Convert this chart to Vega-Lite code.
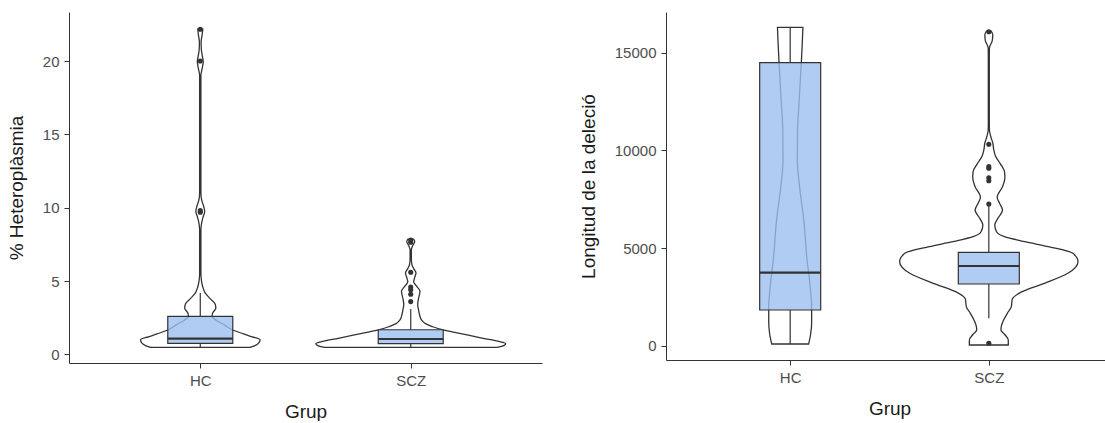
{
  "$schema": "https://vega.github.io/schema/vega-lite/v6.json",
  "background": "white",
  "padding": {"left": 7, "top": 12, "right": 0, "bottom": 0},
  "spacing": 37,
  "config": {
    "view": {"stroke": null},
    "font": "Liberation Sans",
    "axis": {
      "grid": false,
      "domainColor": "#333333",
      "tickColor": "#333333",
      "labelColor": "#4d4d4d",
      "titleColor": "#1a1a1a",
      "labelFontSize": 15,
      "titleFontSize": 19,
      "titleFontWeight": "normal",
      "tickSize": 5,
      "labelPadding": 5
    },
    "axisX": {"titlePadding": 14},
    "axisY": {"titlePadding": 15.5}
  },
  "datasets": {
    "violinL": [
      {"g": "HC", "v": 0.48, "lo": 0.763, "hi": 1.237},
      {"g": "HC", "v": 0.6, "lo": 0.740, "hi": 1.260},
      {"g": "HC", "v": 0.8, "lo": 0.721, "hi": 1.279},
      {"g": "HC", "v": 1.0, "lo": 0.716, "hi": 1.284},
      {"g": "HC", "v": 1.2, "lo": 0.753, "hi": 1.247},
      {"g": "HC", "v": 1.4, "lo": 0.795, "hi": 1.205},
      {"g": "HC", "v": 1.7, "lo": 0.851, "hi": 1.149},
      {"g": "HC", "v": 2.0, "lo": 0.884, "hi": 1.116},
      {"g": "HC", "v": 2.3, "lo": 0.921, "hi": 1.079},
      {"g": "HC", "v": 2.6, "lo": 0.944, "hi": 1.056},
      {"g": "HC", "v": 2.85, "lo": 0.940, "hi": 1.060},
      {"g": "HC", "v": 3.15, "lo": 0.926, "hi": 1.074},
      {"g": "HC", "v": 3.45, "lo": 0.930, "hi": 1.070},
      {"g": "HC", "v": 3.8, "lo": 0.953, "hi": 1.047},
      {"g": "HC", "v": 4.2, "lo": 0.977, "hi": 1.023},
      {"g": "HC", "v": 4.6, "lo": 0.988, "hi": 1.012},
      {"g": "HC", "v": 5.0, "lo": 0.994, "hi": 1.006},
      {"g": "HC", "v": 5.5, "lo": 0.997, "hi": 1.003},
      {"g": "HC", "v": 8.5, "lo": 0.997, "hi": 1.003},
      {"g": "HC", "v": 9.0, "lo": 0.993, "hi": 1.007},
      {"g": "HC", "v": 9.4, "lo": 0.986, "hi": 1.014},
      {"g": "HC", "v": 9.75, "lo": 0.979, "hi": 1.021},
      {"g": "HC", "v": 10.1, "lo": 0.984, "hi": 1.016},
      {"g": "HC", "v": 10.5, "lo": 0.993, "hi": 1.007},
      {"g": "HC", "v": 11.0, "lo": 0.997, "hi": 1.003},
      {"g": "HC", "v": 19.0, "lo": 0.997, "hi": 1.003},
      {"g": "HC", "v": 19.5, "lo": 0.991, "hi": 1.009},
      {"g": "HC", "v": 19.95, "lo": 0.986, "hi": 1.014},
      {"g": "HC", "v": 20.4, "lo": 0.991, "hi": 1.009},
      {"g": "HC", "v": 20.8, "lo": 0.995, "hi": 1.005},
      {"g": "HC", "v": 21.3, "lo": 0.996, "hi": 1.004},
      {"g": "HC", "v": 21.8, "lo": 0.991, "hi": 1.009},
      {"g": "HC", "v": 22.17, "lo": 0.988, "hi": 1.012},
      {"g": "SCZ", "v": 0.48, "lo": 1.591, "hi": 2.409},
      {"g": "SCZ", "v": 0.6, "lo": 1.558, "hi": 2.442},
      {"g": "SCZ", "v": 0.75, "lo": 1.549, "hi": 2.451},
      {"g": "SCZ", "v": 0.9, "lo": 1.586, "hi": 2.414},
      {"g": "SCZ", "v": 1.1, "lo": 1.656, "hi": 2.344},
      {"g": "SCZ", "v": 1.3, "lo": 1.721, "hi": 2.279},
      {"g": "SCZ", "v": 1.5, "lo": 1.791, "hi": 2.209},
      {"g": "SCZ", "v": 1.7, "lo": 1.856, "hi": 2.144},
      {"g": "SCZ", "v": 1.9, "lo": 1.898, "hi": 2.102},
      {"g": "SCZ", "v": 2.1, "lo": 1.930, "hi": 2.070},
      {"g": "SCZ", "v": 2.35, "lo": 1.949, "hi": 2.051},
      {"g": "SCZ", "v": 2.7, "lo": 1.958, "hi": 2.042},
      {"g": "SCZ", "v": 3.05, "lo": 1.963, "hi": 2.037},
      {"g": "SCZ", "v": 3.4, "lo": 1.967, "hi": 2.033},
      {"g": "SCZ", "v": 3.8, "lo": 1.963, "hi": 2.037},
      {"g": "SCZ", "v": 4.3, "lo": 1.956, "hi": 2.044},
      {"g": "SCZ", "v": 4.65, "lo": 1.972, "hi": 2.028},
      {"g": "SCZ", "v": 4.95, "lo": 1.986, "hi": 2.014},
      {"g": "SCZ", "v": 5.25, "lo": 1.981, "hi": 2.019},
      {"g": "SCZ", "v": 5.55, "lo": 1.975, "hi": 2.025},
      {"g": "SCZ", "v": 5.85, "lo": 1.986, "hi": 2.014},
      {"g": "SCZ", "v": 6.1, "lo": 1.994, "hi": 2.006},
      {"g": "SCZ", "v": 6.5, "lo": 1.997, "hi": 2.003},
      {"g": "SCZ", "v": 7.1, "lo": 1.997, "hi": 2.003},
      {"g": "SCZ", "v": 7.4, "lo": 1.991, "hi": 2.009},
      {"g": "SCZ", "v": 7.7, "lo": 1.981, "hi": 2.019},
      {"g": "SCZ", "v": 7.85, "lo": 1.986, "hi": 2.014}
    ],
    "boxL": [
      {"g": "HC", "x": 1, "q1": 0.75, "med": 1.07, "q3": 2.59, "wlo": 0.48, "whi": 4.18},
      {"g": "SCZ", "x": 2, "q1": 0.73, "med": 1.05, "q3": 1.68, "wlo": 0.48, "whi": 3.1}
    ],
    "outL": [
      {"g": "HC", "x": 1, "v": 9.7},
      {"g": "HC", "x": 1, "v": 9.8},
      {"g": "HC", "x": 1, "v": 20.0},
      {"g": "HC", "x": 1, "v": 22.17},
      {"g": "SCZ", "x": 2, "v": 3.6},
      {"g": "SCZ", "x": 2, "v": 4.1},
      {"g": "SCZ", "x": 2, "v": 4.4},
      {"g": "SCZ", "x": 2, "v": 4.6},
      {"g": "SCZ", "x": 2, "v": 5.6},
      {"g": "SCZ", "x": 2, "v": 7.65},
      {"g": "SCZ", "x": 2, "v": 7.8}
    ],
    "violinR": [
      {"g": "HC", "v": 102, "lo": 0.907, "hi": 1.093},
      {"g": "HC", "v": 600, "lo": 0.897, "hi": 1.103},
      {"g": "HC", "v": 1200, "lo": 0.892, "hi": 1.108},
      {"g": "HC", "v": 2000, "lo": 0.892, "hi": 1.108},
      {"g": "HC", "v": 3000, "lo": 0.899, "hi": 1.101},
      {"g": "HC", "v": 4500, "lo": 0.916, "hi": 1.084},
      {"g": "HC", "v": 6400, "lo": 0.931, "hi": 1.069},
      {"g": "HC", "v": 8000, "lo": 0.951, "hi": 1.049},
      {"g": "HC", "v": 9500, "lo": 0.964, "hi": 1.036},
      {"g": "HC", "v": 11000, "lo": 0.963, "hi": 1.037},
      {"g": "HC", "v": 12500, "lo": 0.955, "hi": 1.045},
      {"g": "HC", "v": 14484, "lo": 0.944, "hi": 1.056},
      {"g": "HC", "v": 15500, "lo": 0.939, "hi": 1.061},
      {"g": "HC", "v": 16294, "lo": 0.936, "hi": 1.064},
      {"g": "SCZ", "v": 51, "lo": 1.902, "hi": 2.098},
      {"g": "SCZ", "v": 300, "lo": 1.902, "hi": 2.098},
      {"g": "SCZ", "v": 600, "lo": 1.921, "hi": 2.079},
      {"g": "SCZ", "v": 818, "lo": 1.939, "hi": 2.061},
      {"g": "SCZ", "v": 1050, "lo": 1.936, "hi": 2.064},
      {"g": "SCZ", "v": 1250, "lo": 1.929, "hi": 2.071},
      {"g": "SCZ", "v": 1670, "lo": 1.907, "hi": 2.093},
      {"g": "SCZ", "v": 2000, "lo": 1.887, "hi": 2.113},
      {"g": "SCZ", "v": 2400, "lo": 1.882, "hi": 2.118},
      {"g": "SCZ", "v": 2776, "lo": 1.833, "hi": 2.167},
      {"g": "SCZ", "v": 3206, "lo": 1.720, "hi": 2.280},
      {"g": "SCZ", "v": 3717, "lo": 1.602, "hi": 2.398},
      {"g": "SCZ", "v": 4310, "lo": 1.551, "hi": 2.449},
      {"g": "SCZ", "v": 4739, "lo": 1.577, "hi": 2.423},
      {"g": "SCZ", "v": 5077, "lo": 1.700, "hi": 2.300},
      {"g": "SCZ", "v": 5332, "lo": 1.818, "hi": 2.182},
      {"g": "SCZ", "v": 5588, "lo": 1.921, "hi": 2.079},
      {"g": "SCZ", "v": 5844, "lo": 1.961, "hi": 2.039},
      {"g": "SCZ", "v": 6186, "lo": 1.970, "hi": 2.030},
      {"g": "SCZ", "v": 6500, "lo": 1.956, "hi": 2.044},
      {"g": "SCZ", "v": 6953, "lo": 1.931, "hi": 2.069},
      {"g": "SCZ", "v": 7300, "lo": 1.946, "hi": 2.054},
      {"g": "SCZ", "v": 7600, "lo": 1.958, "hi": 2.042},
      {"g": "SCZ", "v": 8145, "lo": 1.931, "hi": 2.069},
      {"g": "SCZ", "v": 8600, "lo": 1.919, "hi": 2.081},
      {"g": "SCZ", "v": 8911, "lo": 1.921, "hi": 2.079},
      {"g": "SCZ", "v": 9300, "lo": 1.941, "hi": 2.059},
      {"g": "SCZ", "v": 9700, "lo": 1.966, "hi": 2.034},
      {"g": "SCZ", "v": 10020, "lo": 1.975, "hi": 2.025},
      {"g": "SCZ", "v": 10378, "lo": 1.980, "hi": 2.020},
      {"g": "SCZ", "v": 10700, "lo": 1.990, "hi": 2.010},
      {"g": "SCZ", "v": 11043, "lo": 1.997, "hi": 2.003},
      {"g": "SCZ", "v": 11500, "lo": 1.9975, "hi": 2.0025},
      {"g": "SCZ", "v": 14800, "lo": 1.9975, "hi": 2.0025},
      {"g": "SCZ", "v": 15235, "lo": 1.997, "hi": 2.003},
      {"g": "SCZ", "v": 15600, "lo": 1.983, "hi": 2.017},
      {"g": "SCZ", "v": 15900, "lo": 1.980, "hi": 2.020},
      {"g": "SCZ", "v": 16100, "lo": 1.988, "hi": 2.012}
    ],
    "boxR": [
      {"g": "HC", "x": 1, "q1": 1840, "med": 3747, "q3": 14484, "wlo": 102, "whi": 16294},
      {"g": "SCZ", "x": 2, "q1": 3170, "med": 4090, "q3": 4790, "wlo": 1415, "whi": 7200}
    ],
    "outR": [
      {"g": "SCZ", "x": 2, "v": 137},
      {"g": "SCZ", "x": 2, "v": 7260},
      {"g": "SCZ", "x": 2, "v": 8450},
      {"g": "SCZ", "x": 2, "v": 8600},
      {"g": "SCZ", "x": 2, "v": 9085},
      {"g": "SCZ", "x": 2, "v": 9170},
      {"g": "SCZ", "x": 2, "v": 10312},
      {"g": "SCZ", "x": 2, "v": 16070}
    ]
  },
  "hconcat": [
    {
      "width": 473,
      "height": 351,
      "layer": [
        {
          "data": {"name": "violinL"},
          "mark": {"type": "area", "orient": "horizontal", "interpolate": "monotone", "fill": "white", "stroke": "#333333", "strokeWidth": 1.3},
          "encoding": {
            "y": {"field": "v", "type": "quantitative", "scale": {"domain": [-0.586, 23.345], "nice": false, "zero": false}, "axis": {"values": [0, 5, 10, 15, 20], "title": "% Heteroplàsmia"}},
            "x": {"field": "lo", "type": "quantitative", "scale": {"domain": [0.4, 2.6], "nice": false, "zero": false}, "axis": {"values": [1, 2], "labelExpr": "datum.value == 1 ? 'HC' : 'SCZ'", "title": "Grup"}},
            "x2": {"field": "hi"},
            "detail": {"field": "g"}
          }
        },
        {
          "data": {"name": "boxL"},
          "mark": {"type": "rule", "stroke": "#333333", "strokeWidth": 1.2},
          "encoding": {"x": {"field": "x", "type": "quantitative"}, "y": {"field": "q3", "type": "quantitative"}, "y2": {"field": "whi"}}
        },
        {
          "data": {"name": "boxL"},
          "mark": {"type": "rule", "stroke": "#333333", "strokeWidth": 1.2},
          "encoding": {"x": {"field": "x", "type": "quantitative"}, "y": {"field": "wlo", "type": "quantitative"}, "y2": {"field": "q1"}}
        },
        {
          "data": {"name": "boxL"},
          "mark": {"type": "bar", "orient": "vertical", "width": 65, "fill": "#9cbff0", "fillOpacity": 0.8, "stroke": "#333333", "strokeWidth": 1.2},
          "encoding": {"x": {"field": "x", "type": "quantitative"}, "y": {"field": "q1", "type": "quantitative"}, "y2": {"field": "q3"}}
        },
        {
          "data": {"name": "boxL"},
          "mark": {"type": "tick", "orient": "horizontal", "thickness": 2.2, "color": "#333333", "opacity": 1},
          "encoding": {"x": {"field": "x", "type": "quantitative"}, "y": {"field": "med", "type": "quantitative"}, "size": {"value": 65}}
        },
        {
          "data": {"name": "outL"},
          "mark": {"type": "point", "filled": true, "size": 26, "color": "#333333", "opacity": 1},
          "encoding": {"x": {"field": "x", "type": "quantitative"}, "y": {"field": "v", "type": "quantitative"}}
        }
      ]
    },
    {
      "width": 447,
      "height": 348,
      "layer": [
        {
          "data": {"name": "violinR"},
          "mark": {"type": "area", "orient": "horizontal", "interpolate": "monotone", "fill": "white", "stroke": "#333333", "strokeWidth": 1.3},
          "encoding": {
            "y": {"field": "v", "type": "quantitative", "scale": {"domain": [-716, 17076], "nice": false, "zero": false}, "axis": {"values": [0, 5000, 10000, 15000], "format": "d", "title": "Longitud de la deleció"}},
            "x": {"field": "lo", "type": "quantitative", "scale": {"domain": [0.4, 2.6], "nice": false, "zero": false}, "axis": {"values": [1, 2], "labelExpr": "datum.value == 1 ? 'HC' : 'SCZ'", "title": "Grup"}},
            "x2": {"field": "hi"},
            "detail": {"field": "g"}
          }
        },
        {
          "data": {"name": "boxR"},
          "mark": {"type": "rule", "stroke": "#333333", "strokeWidth": 1.2},
          "encoding": {"x": {"field": "x", "type": "quantitative"}, "y": {"field": "q3", "type": "quantitative"}, "y2": {"field": "whi"}}
        },
        {
          "data": {"name": "boxR"},
          "mark": {"type": "rule", "stroke": "#333333", "strokeWidth": 1.2},
          "encoding": {"x": {"field": "x", "type": "quantitative"}, "y": {"field": "wlo", "type": "quantitative"}, "y2": {"field": "q1"}}
        },
        {
          "data": {"name": "boxR"},
          "mark": {"type": "bar", "orient": "vertical", "width": 61, "fill": "#9cbff0", "fillOpacity": 0.8, "stroke": "#333333", "strokeWidth": 1.2},
          "encoding": {"x": {"field": "x", "type": "quantitative"}, "y": {"field": "q1", "type": "quantitative"}, "y2": {"field": "q3"}}
        },
        {
          "data": {"name": "boxR"},
          "mark": {"type": "tick", "orient": "horizontal", "thickness": 2.2, "color": "#333333", "opacity": 1},
          "encoding": {"x": {"field": "x", "type": "quantitative"}, "y": {"field": "med", "type": "quantitative"}, "size": {"value": 61}}
        },
        {
          "data": {"name": "outR"},
          "mark": {"type": "point", "filled": true, "size": 26, "color": "#333333", "opacity": 1},
          "encoding": {"x": {"field": "x", "type": "quantitative"}, "y": {"field": "v", "type": "quantitative"}}
        }
      ]
    }
  ]
}
